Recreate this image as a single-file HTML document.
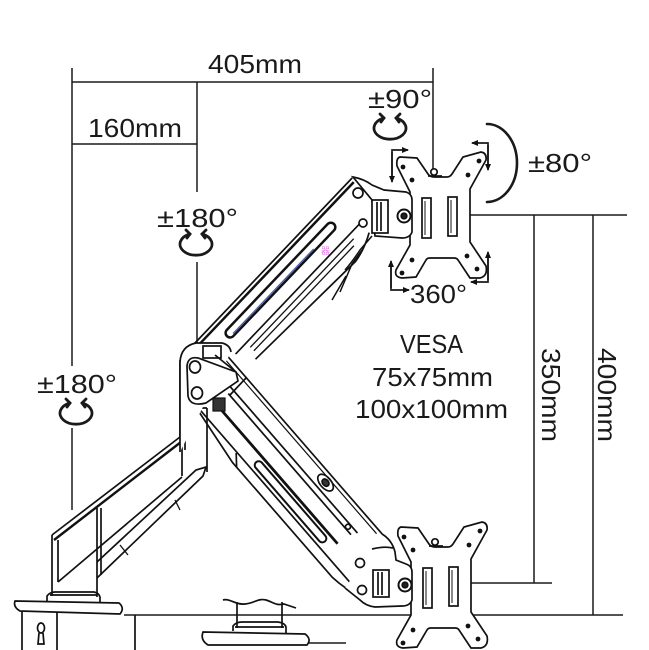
<!DOCTYPE html>
<html><head><meta charset="utf-8"><style>
html,body{margin:0;padding:0;background:#fff;}
svg{display:block;}
text{font-family:"Liberation Sans","Noto Sans CJK JP",sans-serif;fill:#1a1a1a;font-size:26px;}
</style></head><body>
<svg width="649" height="650" viewBox="0 0 649 650" xmlns="http://www.w3.org/2000/svg">
<rect width="649" height="650" fill="#fff"/>
<defs>
<marker id="ah" markerWidth="8" markerHeight="8" refX="6" refY="4" orient="auto" markerUnits="userSpaceOnUse">
<path d="M0,1 L7,4 L0,7 Z" fill="#111"/>
</marker>
</defs>

<!-- dimension lines -->
<g stroke="#1a1a1a" stroke-width="1.5" fill="none">
<line x1="72" y1="68" x2="72" y2="366"/>
<line x1="72" y1="428" x2="72" y2="510"/>
<line x1="72" y1="82" x2="433" y2="82"/>
<line x1="72" y1="144" x2="197" y2="144"/>
<line x1="197" y1="82" x2="197" y2="192"/>
<line x1="197" y1="262" x2="197" y2="343"/>
<line x1="433" y1="68" x2="433" y2="172"/>
<line x1="470" y1="215" x2="627" y2="215"/>
<line x1="534" y1="215" x2="534" y2="583"/>
<line x1="593" y1="215" x2="593" y2="615"/>
<line x1="470" y1="583" x2="552" y2="583"/>
<line x1="124" y1="615" x2="623" y2="615"/>
<line x1="306" y1="643" x2="346" y2="643"/>
</g>

<!-- rotation icons -->
<g stroke="#1a1a1a" stroke-width="2.8" fill="none" stroke-linecap="round">
<path d="M384,118 A16 11 0 1 0 396,118"/>
<path d="M380,114 L384,118 L381,122"/><path d="M400,114 L396,118 L399,122"/>
<path d="M190,234 A16 11 0 1 0 202,234"/>
<path d="M186,230 L190,234 L187,238"/><path d="M206,230 L202,234 L205,238"/>
<path d="M70,403 A16 11 0 1 0 82,403"/>
<path d="M66,399 L70,403 L67,407"/><path d="M86,399 L82,403 L85,407"/>
<path d="M487,124 A30 39 0 0 1 487,202" stroke-width="2.6"/>
</g>

<!-- L arrows -->
<g stroke="#1a1a1a" stroke-width="1.7" fill="none">
<path d="M392,180 L392,150 L408,150" marker-end="url(#ah)"/>
<line x1="392" y1="152" x2="392" y2="182" marker-end="url(#ah)"/>
<path d="M488,168 L488,143 L472,143" marker-end="url(#ah)"/>
<line x1="488" y1="145" x2="488" y2="170" marker-end="url(#ah)"/>
<path d="M391,264 L391,290 L409,290" marker-end="url(#ah)"/>
<line x1="391" y1="288" x2="391" y2="261" marker-end="url(#ah)"/>
<path d="M488,255 L488,282 L471,282" marker-end="url(#ah)"/>
<line x1="488" y1="280" x2="488" y2="252" marker-end="url(#ah)"/>
</g>

<!-- base clamp 1 -->
<g stroke="#111" stroke-width="1.7" fill="#fff">
<path d="M22,611 L22,650 M57,611 L57,650 M135,615 L135,650" fill="none"/>
<path d="M15,601 L119,603 Q125,608 120,614 L20,611 Q13,607 15,601 Z"/>
<path d="M47,601 L47,596 Q50,592 55,592 L94,592 Q99,593 100,597 L100,603" fill="none"/>
<path d="M50,595 L97,595" fill="none"/>
<ellipse cx="41" cy="628" rx="3.5" ry="5" fill="none"/>
<path d="M39,633 L38,644 L44,644 L43,633" fill="none"/>
</g>

<!-- base clamp 2 -->
<g stroke="#111" stroke-width="1.7" fill="#fff">
<path d="M223,600 C230,598 235,605 245,604 C255,603 258,598 266,600 C273,602 276,606 284,604 L296,608" fill="none"/>
<path d="M237,602 L237,628 M282,602 L282,628" fill="none"/>
<path d="M203,632 L305,634 Q312,639 307,645 L208,645 Q200,640 203,632 Z"/>
<path d="M233,631 L233,626 Q236,622 242,622 L278,622 Q285,623 286,627 L286,633" fill="none"/>
<path d="M235,627 L284,627" fill="none"/>
</g>

<!-- first (base) arm -->
<g stroke="#111" stroke-width="1.7" fill="none">
<path d="M52,535 L180,437"/>
<path d="M54,540 L181,442" stroke-width="2.4"/>
<path d="M52,535 L52,596 M58,540 L58,582 M97,508 L97,597 M101,508 L101,575"/>
<path d="M58,582 L182,477"/>
<path d="M97,562 L196,470 L206,467 L203,476 L97,578"/>
<path d="M120,545 L128,555 M175,500 L180,510" stroke-width="1.3"/>
<path d="M180,360 L180,437 M185,366 L185,450 M207,408 L207,472 M180,408 L207,408 M182,437 L182,476"/>
</g>

<!-- lower arm -->
<g transform="translate(230,359) rotate(49)" stroke="#111" fill="none" stroke-width="1.7">
<path d="M-12,0 H232"/>
<path d="M-8,4 H228" stroke-width="1.2"/>
<path d="M20,18 H215"/>
<path d="M25,24 H212"/>
<path d="M30,40 H210" stroke-width="2.8"/>
<rect x="95" y="44" width="105" height="8" rx="4" stroke-width="2"/>
<path d="M15,56 H250"/>
<path d="M19,58 L80,66 L232,66 Q250,64 262,58"/>
<path d="M75,57 L86,66"/>
<ellipse cx="156" cy="9" rx="10" ry="5.5"/>
<ellipse cx="156" cy="9" rx="4" ry="3" fill="#333"/>
<circle cx="204" cy="21" r="2.5"/>
</g>

<!-- upper arm -->
<g transform="translate(195,343) rotate(-46.4)" stroke="#111" fill="none" stroke-width="1.7">
<path d="M-5,0 H228"/>
<path d="M2,4 H226" stroke-width="2.5"/>
<rect x="27" y="14" width="155" height="9" rx="4.5" stroke-width="2.5"/>
<path d="M33,21 H150" stroke="#4455aa" stroke-width="1.2"/>
<path d="M20,37 H205"/>
<path d="M35,43 H185" stroke-width="1.3"/>
<path d="M35,48 H180" stroke-width="1.3"/>
<path d="M30,55 L170,60 Q185,58 200,50"/>
</g>
<text x="321" y="254" style="font-size:9px;fill:#e27de6">器</text>

<!-- gas spring joint under upper arm -->
<g stroke="#111" stroke-width="1.5" fill="none">
<path d="M340,292 L352,264 L362,250"/>
<path d="M332,300 L346,276"/>
<path d="M372,236 L360,250 Q352,262 345,270"/>
</g>

<!-- elbow housing -->
<g stroke="#111" stroke-width="1.7" fill="#fff">
<path d="M180,452 L180,362 Q181,346 196,343 L222,343 Q230,345 231,352"/>
<path d="M187,366 Q188,356 198,358 L236,372 L238,381 L206,403 Q190,407 188,396 Z"/>
<ellipse cx="195" cy="367" rx="5.5" ry="6"/>
<ellipse cx="197" cy="393" rx="5.5" ry="6"/>
<rect x="203" y="346" width="18" height="12" fill="none"/>
<rect x="213" y="398" width="12" height="13" fill="#333" stroke-width="1.2"/>
<path d="M215,355 L236,372 M230,395 L246,378" fill="none"/>
</g>

<!-- VESA plates -->
<g id="plate" stroke="#111" stroke-width="1.7">
<path d="M400,157 L417,158 L428,174 Q430,177 434,177 L447,177 Q450,177 452,174 L463,157 L481,152 Q487,153 486,160 L470,189 L470,242 L486,266 Q488,276 480,278 L470,278 L458,260 Q457,258 454,258 L430,258 Q427,258 426,260 L416,277 L402,278 Q394,277 396,270 L410,245 L410,192 L397,166 Q396,158 400,157 Z" fill="#fff"/>
<g fill="#111" stroke="none">
<circle cx="403" cy="167" r="2.4"/><circle cx="412" cy="180" r="2.4"/>
<circle cx="479" cy="161" r="2.4"/><circle cx="468" cy="175" r="2.4"/>
<circle cx="412" cy="260" r="2.4"/><circle cx="402" cy="273" r="2.4"/>
<circle cx="467" cy="256" r="2.4"/><circle cx="477" cy="269" r="2.4"/>
</g>
<rect x="422" y="198" width="9" height="40" fill="none"/>
<rect x="448" y="197" width="9" height="39" fill="none"/>
<path d="M425,201 L425,235 M451,200 L451,233" stroke-width="1" fill="none"/>
<circle cx="434" cy="172" r="3.2" fill="#fff"/>
<path d="M428,176 L442,176" fill="none"/>
</g>
<use href="#plate" transform="translate(1,370)"/>

<!-- upper tilt bracket -->
<g stroke="#111" stroke-width="1.7" fill="#fff">
<path d="M353,177 Q364,179 372,185 L384,190 L406,192 Q412,194 412,200 L412,232 Q410,238 402,238 L375,236 L372,200 Z"/>
<rect x="372" y="200" width="16" height="33"/>
<path d="M377,202 L377,231 M381,202 L381,231" fill="none"/>
<circle cx="404" cy="216" r="6.5" stroke-width="2"/>
<circle cx="404" cy="216" r="2.8" fill="#222"/>
<circle cx="358" cy="193" r="5"/>
<circle cx="363" cy="223" r="4"/>
</g>

<!-- lower tilt bracket -->
<g stroke="#111" stroke-width="1.7" fill="#fff">
<path d="M382,534 Q392,540 395,552 L396,560 L406,564 Q412,566 412,572 L412,600 Q410,606 402,606 L375,607 Q366,606 360,600 L345,588"/>
<path d="M372,549 Q384,546 393,548" fill="none"/>
<rect x="373" y="570" width="16" height="27"/>
<path d="M378,572 L378,595 M382,572 L382,595" fill="none"/>
<circle cx="405" cy="585" r="6.5" stroke-width="2"/>
<circle cx="405" cy="585" r="2.8" fill="#222"/>
<circle cx="360" cy="563" r="4.5"/>
<circle cx="362" cy="590" r="4.5"/>
</g>

<!-- labels -->
<text x="208" y="73" textLength="94" lengthAdjust="spacingAndGlyphs">405mm</text>
<text x="88" y="137" textLength="94" lengthAdjust="spacingAndGlyphs">160mm</text>
<text x="157" y="227" textLength="81" lengthAdjust="spacingAndGlyphs">±180°</text>
<text x="37" y="393" textLength="80" lengthAdjust="spacingAndGlyphs">±180°</text>
<text x="368" y="108" textLength="64" lengthAdjust="spacingAndGlyphs">±90°</text>
<text x="528" y="172" textLength="64" lengthAdjust="spacingAndGlyphs">±80°</text>
<text x="410" y="303" textLength="57" lengthAdjust="spacingAndGlyphs">360°</text>
<text x="400" y="353" textLength="63" lengthAdjust="spacingAndGlyphs">VESA</text>
<text x="372" y="386" textLength="121" lengthAdjust="spacingAndGlyphs">75x75mm</text>
<text x="355" y="418" textLength="153" lengthAdjust="spacingAndGlyphs">100x100mm</text>
<text transform="translate(542,348) rotate(90)" x="0" y="0" textLength="94" lengthAdjust="spacingAndGlyphs">350mm</text>
<text transform="translate(598,348) rotate(90)" x="0" y="0" textLength="94" lengthAdjust="spacingAndGlyphs">400mm</text>
</svg>
</body></html>
